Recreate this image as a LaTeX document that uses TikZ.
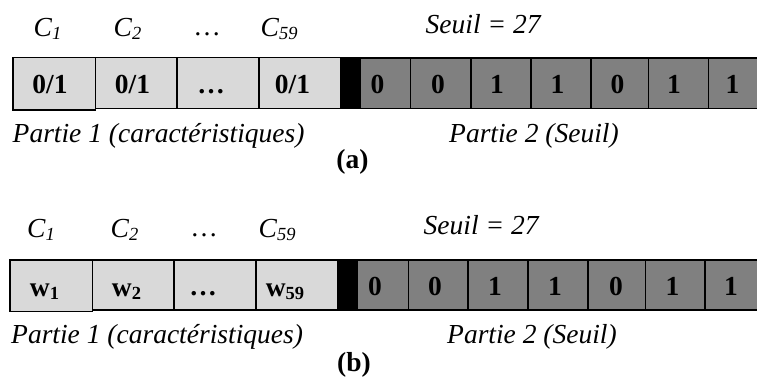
\documentclass[tikz,border=0pt]{standalone}
\usepackage{fontspec}
\setmainfont{Liberation Serif}
\definecolor{lightc}{HTML}{D9D9D9}
\definecolor{darkc}{HTML}{808080}
\newcommand\Csub[1]{\textit{C}\raisebox{-3pt}{\fontsize{18.5}{18.5}\selectfont\itshape #1}}
\newcommand\wsub[1]{\textbf{w}\raisebox{-3pt}{\fontsize{18.5}{18.5}\selectfont\bfseries #1}}
\tikzset{
  cellbase/.style={draw=black, line width=1.2pt, anchor=north west, inner sep=0pt, outer sep=0pt},
  lcell/.style={cellbase, fill=lightc},
  dcell/.style={cellbase, fill=darkc},
  bcell/.style={cellbase, fill=black},
  lab/.style={font=\fontsize{27.5}{32}\selectfont\itshape, inner sep=0pt, anchor=base west},
  labc/.style={font=\fontsize{27.5}{32}\selectfont, inner sep=0pt, anchor=base},
  ct/.style={font=\fontsize{27.5}{32}\selectfont\bfseries, inner sep=0pt, anchor=base},
}
\begin{document}
\begin{tikzpicture}[x=1pt,y=-1pt]
\useasboundingbox (0,0) rectangle (757,379);
\begin{scope}
\clip (0,0) rectangle (757,379);
% ---------- row (a) ----------
\node[lcell, minimum width=82.7pt, minimum height=52.3pt] (a1) at (13,57.7) {};
\node[lcell, minimum width=81.3pt, minimum height=50.6pt] (a2) at (95.7,57.7) {};
\node[lcell, minimum width=82pt, minimum height=50.6pt] (a3) at (177,57.7) {};
\node[lcell, minimum width=81.7pt, minimum height=50.6pt] (a4) at (259,57.7) {};
\node[bcell, minimum width=20pt, minimum height=51.2pt] (ab) at (340.7,57.7) {};
\node[dcell, minimum width=50pt, minimum height=50.3pt] (g1) at (360.7,58) {};
\node[dcell, minimum width=60.3pt, minimum height=50.3pt] (g2) at (410.7,58) {};
\node[dcell, minimum width=60pt, minimum height=50.3pt] (g3) at (471,58) {};
\node[dcell, minimum width=60pt, minimum height=50.3pt] (g4) at (531,58) {};
\node[dcell, minimum width=57.3pt, minimum height=50.3pt] (g5) at (591,58) {};
\node[dcell, minimum width=60pt, minimum height=50.3pt] (g6) at (648.3,58) {};
\node[dcell, minimum width=60pt, minimum height=50.3pt] (g7) at (708.3,58) {};
% cell texts
\node[ct] (ta1) at (50,93.5) {0/1};
\node[ct] (ta2) at (132.5,93.5) {0/1};
\node[ct] (ta3) at (211,93.5) {\dots};
\node[ct] (ta4) at (292.5,93.5) {0/1};
\node[ct] (tg1) at (377.5,93.5) {0};
\node[ct] (tg2) at (438,93.5) {0};
\node[ct] (tg3) at (497,93.5) {1};
\node[ct] (tg4) at (557.5,93.5) {1};
\node[ct] (tg5) at (617.5,93.5) {0};
\node[ct] (tg6) at (674,93.5) {1};
\node[ct] (tg7) at (732.5,93.5) {1};
% labels
\node[lab] (ca1) at (33.5,36.7) {\Csub{1}};
\node[lab] (ca2) at (113.5,36.7) {\Csub{2}};
\node[labc] (cadots) at (207,35.5) {\dots};
\node[lab] (ca59) at (260.5,36.7) {\Csub{59}};
\node[lab] (sa) at (425.5,34) {Seuil = 27};
\node[lab] (pa1) at (12.5,143) {Partie 1 (caractéristiques)};
\node[lab] (pa2) at (449,143) {Partie 2 (Seuil)};
\node[ct] (capa) at (352.5,169) {(a)};
% ---------- row (b) ----------
\node[lcell, minimum width=82.3pt, minimum height=51.7pt] (b1) at (10,260) {};
\node[lcell, minimum width=81.7pt, minimum height=50pt] (b2) at (92.3,260) {};
\node[lcell, minimum width=82pt, minimum height=50pt] (b3) at (174,260) {};
\node[lcell, minimum width=81.3pt, minimum height=50pt] (b4) at (256,260) {};
\node[bcell, minimum width=20pt, minimum height=50pt] (bb) at (337.3,260) {};
\node[dcell, minimum width=51pt, minimum height=50pt] (h1) at (357.3,260) {};
\node[dcell, minimum width=59.7pt, minimum height=50pt] (h2) at (408.3,260) {};
\node[dcell, minimum width=60pt, minimum height=50pt] (h3) at (468,260) {};
\node[dcell, minimum width=60pt, minimum height=50pt] (h4) at (528,260) {};
\node[dcell, minimum width=57.7pt, minimum height=50pt] (h5) at (588,260) {};
\node[dcell, minimum width=59.3pt, minimum height=50pt] (h6) at (645.7,260) {};
\node[dcell, minimum width=60pt, minimum height=50pt] (h7) at (705,260) {};
% cell texts
\node[ct] (tb1) at (44.5,296.5) {\wsub{1}};
\node[ct] (tb2) at (126.5,296.5) {\wsub{2}};
\node[ct] (tb3) at (203,295.5) {\dots};
\node[ct] (tb4) at (285,296.5) {\wsub{59}};
\node[ct] (th1) at (375,295.5) {0};
\node[ct] (th2) at (435,295.5) {0};
\node[ct] (th3) at (495,295.5) {1};
\node[ct] (th4) at (555,295.5) {1};
\node[ct] (th5) at (616,295.5) {0};
\node[ct] (th6) at (672.5,295.5) {1};
\node[ct] (th7) at (731,295.5) {1};
% labels
\node[lab] (cb1) at (27,238) {\Csub{1}};
\node[lab] (cb2) at (110.5,238) {\Csub{2}};
\node[labc] (cbdots) at (204,236.5) {\dots};
\node[lab] (cb59) at (258.5,238) {\Csub{59}};
\node[lab] (sb) at (423.5,235) {Seuil = 27};
\node[lab] (pb1) at (11,343) {Partie 1 (caractéristiques)};
\node[lab] (pb2) at (447,343) {Partie 2 (Seuil)};
\node[ct] (capb) at (354,371) {(b)};
\end{scope}
\end{tikzpicture}
\end{document}
